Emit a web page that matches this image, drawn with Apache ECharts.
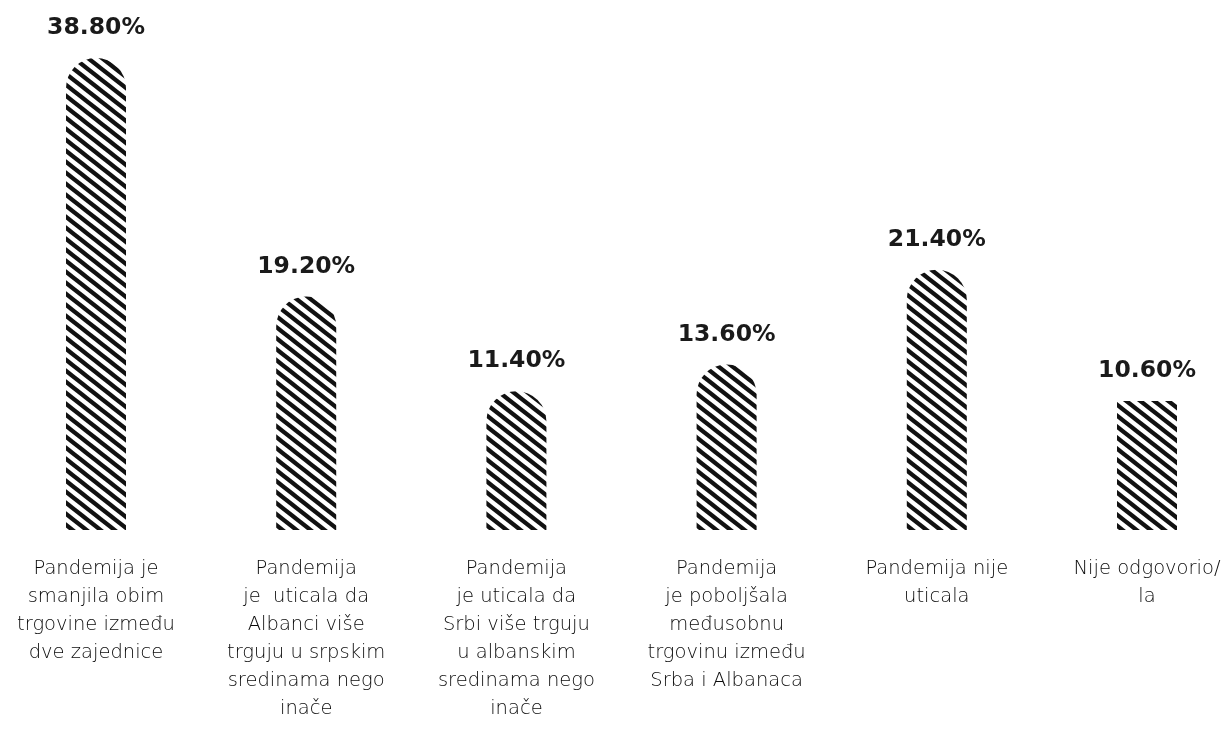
<!DOCTYPE html>
<html>
<head>
<meta charset="utf-8">
<script src="https://cdn.jsdelivr.net/npm/echarts@6/dist/echarts.min.js"></script>
<style>
html,body{margin:0;padding:0;background:#fff;}
#chart{width:1230px;height:733px;}
</style>
</head>
<body>
<div id="chart"></div>
<script>
const categories = [
  "Pandemija je\nsmanjila obim\ntrgovine između\ndve zajednice",
  "Pandemija\nje  uticala da\nAlbanci više\ntrguju u srpskim\nsredinama nego\ninače",
  "Pandemija\nje uticala da\nSrbi više trguju\nu albanskim\nsredinama nego\ninače",
  "Pandemija\nje poboljšala\nmeđusobnu\ntrgovinu između\nSrba i Albanaca",
  "Pandemija nije\nuticala",
  "Nije odgovorio/\nla"
];
const values = [38.8, 19.2, 11.4, 13.6, 21.4, 10.6];
const roundedTop = [true, true, true, true, true, false];

function makePattern() {
  const W = 14, H = 11;
  const c = document.createElement('canvas');
  c.width = W; c.height = H;
  const ctx = c.getContext('2d');
  ctx.fillStyle = '#ffffff';
  ctx.fillRect(0, 0, W, H);
  ctx.strokeStyle = '#111111';
  ctx.lineWidth = 4.2;
  for (let k = -1; k <= 1; k++) {
    ctx.beginPath();
    ctx.moveTo(-W + k * W, -H);
    ctx.lineTo(2 * W + k * W, 2 * H);
    ctx.stroke();
  }
  return c;
}
const pattern = { image: makePattern(), repeat: 'repeat' };

const chart = echarts.init(document.getElementById('chart'));
chart.setOption({
  animation: false,
  backgroundColor: '#ffffff',
  grid: { left: 96, right: 83, top: 43.4, bottom: 203 },
  xAxis: {
    type: 'category',
    data: categories,
    boundaryGap: false,
    axisLine: { show: false },
    axisTick: { show: false },
    splitLine: { show: false },
    axisLabel: {
      interval: 0,
      margin: 25,
      fontFamily: 'DejaVu Sans',
      fontWeight: 200,
      fontSize: 19.5,
      lineHeight: 28,
      color: '#0a0a0a',
      verticalAlign: 'top'
    }
  },
  yAxis: {
    type: 'value',
    min: 0,
    max: 40,
    show: false,
    splitLine: { show: false }
  },
  series: [{
    type: 'bar',
    barWidth: 60,
    data: values.map((v, i) => ({
      value: v,
      itemStyle: {
        color: pattern,
        borderRadius: roundedTop[i] ? [30, 30, 0, 0] : 0
      }
    })),
    label: {
      show: true,
      position: 'top',
      distance: 18,
      fontFamily: 'DejaVu Sans',
      fontWeight: 'bold',
      fontSize: 23.5,
      color: '#1a1a1a',
      formatter: p => p.value.toFixed(2) + '%'
    }
  }]
});
</script>
</body>
</html>
